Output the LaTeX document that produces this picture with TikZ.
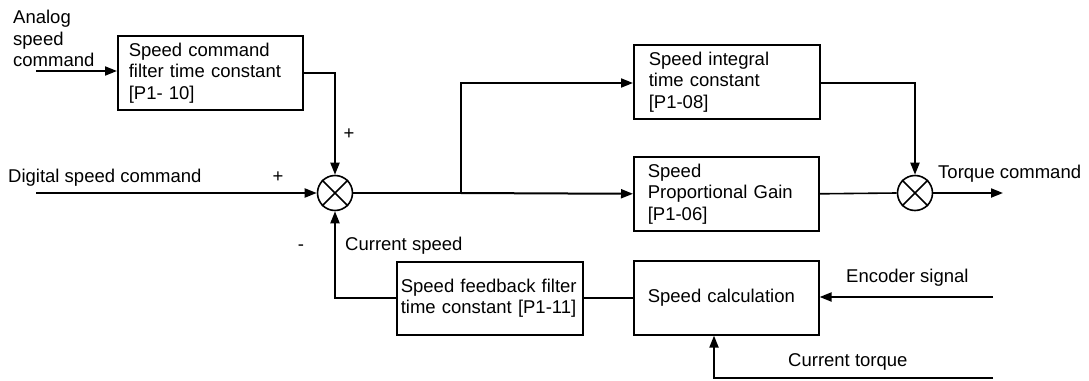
\documentclass[tikz,border=0pt]{standalone}
\usepackage{fontspec}
\setmainfont{Liberation Sans}
\usetikzlibrary{arrows.meta}
\begin{document}
\begin{tikzpicture}[x=1pt,y=-1pt,
  every node/.style={font=\fontsize{18.5}{21.5}\selectfont},
  box/.style={draw, line width=1.6pt, anchor=north west, align=left, inner ysep=0pt},
  sum/.style={draw, circle, line width=1.6pt, minimum size=35pt, inner sep=0pt},
  lbl/.style={inner sep=0pt},
  arr/.style={line width=2pt, -{Triangle[length=12pt,width=9pt]}},
  thk/.style={line width=2pt},
  thn/.style={line width=1.6pt}]
\useasboundingbox (0,0) rectangle (1089,380);

% boxes
\node[box, text width=163pt, inner xsep=11pt, minimum height=74pt] (b1) at (117,35)
  {Speed command\\filter time constant\\{[P1- 10]}};
\node[box, text width=156pt, inner xsep=15pt, minimum height=74pt] (int) at (633,44)
  {Speed integral\\time constant\\{[P1-08]}};
\node[box, text width=157pt, inner xsep=14pt, minimum height=74pt] (prop) at (633,156)
  {Speed\\Proportional Gain\\{[P1-06]}};
\node[box, text width=178pt, inner xsep=4pt, minimum height=73pt] (fb) at (396,261)
  {Speed feedback filter\\time constant [P1-11]};
\node[box, text width=157pt, inner xsep=14pt, minimum height=74pt] (calc) at (633,260)
  {Speed calculation};

% summing junctions
\node[sum] (s1) at (335,193) {};
\draw[thn] (s1.45) -- (s1.225) (s1.135) -- (s1.315);
\node[sum] (s2) at (915,193) {};
\draw[thn] (s2.45) -- (s2.225) (s2.135) -- (s2.315);

% labels
\node[lbl, anchor=north west, align=left] (alab) at (13,10) {Analog\\speed\\command};
\node[lbl, anchor=base west] (dlab) at (8,182) {Digital speed command};
\node[lbl, anchor=base] (dplus) at (278,182) {+};
\node[lbl, anchor=base] (vplus) at (349,139) {+};
\node[lbl, anchor=base] (minus) at (301,250) {-};
\node[lbl, anchor=base west] (cslab) at (345,250) {Current speed};
\node[lbl, anchor=base west] (tclab) at (938,178) {Torque command};
\node[lbl, anchor=base west] (enlab) at (846,282) {Encoder signal};
\node[lbl, anchor=base west] (ctlab) at (788,366) {Current torque};

% connectors
\coordinate (ain) at (36,71);
\draw[arr] (ain) -- (ain -| b1.west);
\draw[arr] (b1.east) -| (s1.north);
\coordinate (din) at (36,193);
\draw[arr] (din) -- (s1.west);
\coordinate (split) at (461,193);
\coordinate (iy) at (0,83);
\draw[thk] (s1.east) -- (split);
\draw[arr] (split) -- (split |- iy) -- (iy -| int.west);
\draw[arr] (split) -- (prop.west);
\draw[arr] (iy -| int.east) -| (s2.north);
\draw[thn] (prop.east) -- (s2.west);
\coordinate (tout) at (1003,193);
\draw[arr] (s2.east) -- (tout);
\coordinate (enc) at (993,297);
\draw[arr] (enc) -- (enc -| calc.east);
\coordinate (tq) at (993,378);
\coordinate (tqx) at (714,378);
\draw[arr] (tq) -- (tqx) -- (tqx |- calc.south);
\draw[thn] (calc.west) -- (calc.west -| fb.east);
\draw[arr] (fb.west) -| (s1.south);
\end{tikzpicture}
\end{document}
